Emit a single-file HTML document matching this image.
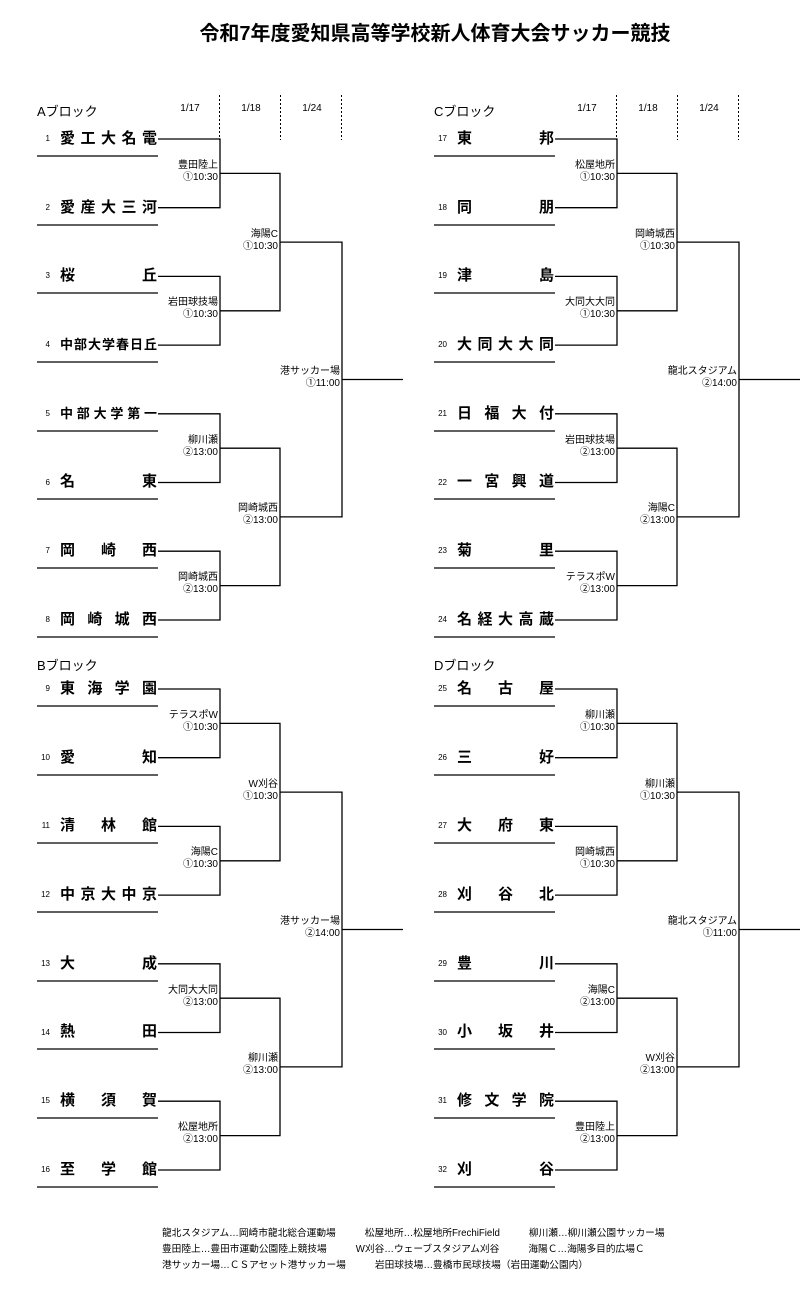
<!DOCTYPE html>
<html><head><meta charset="utf-8">
<style>
body{margin:0;width:809px;height:1314px;background:#fff;position:relative;font-family:"Liberation Sans","Noto Sans CJK JP",sans-serif;color:#000;overflow:hidden}
.a{position:absolute;white-space:nowrap}
.t{font-size:20px;font-weight:bold;left:0;width:870px;text-align:center;top:17px}
.bk{font-size:13px}
.dt{font-size:10px;width:40px;text-align:center}
.n{font-size:8px;width:16px;text-align:right}
.nm{font-size:15px;font-weight:bold;width:97px;text-align:justify;text-align-last:justify;text-justify:inter-character;line-height:20px}
.nm.s{font-size:13px}
.l{font-size:10px;text-align:right;line-height:12px;width:120px}
.f{font-size:9.7px;line-height:16px;left:162px;top:1226px}
</style></head><body>
<div class="a t">令和7年度愛知県高等学校新人体育大会サッカー競技</div>
<svg class="a" style="left:0;top:0" width="809" height="1314">
<g stroke="#000" stroke-width="1.3" fill="none" id="A">
<path d="M37 156H158M37 225H158M37 293H158M37 362H158M37 431H158M37 499H158M37 568H158M37 637H158"/>
<path d="M158 139H220V207.7H158M158 276.4H220V345.1H158M158 413.8H220V482.5H158M158 551.2H220V620H158"/>
<path d="M220 173.4H280V310.8H220M220 448.2H280V585.6H220"/>
<path d="M280 242.1H342V516.9H280M342 379.5H403"/>
</g>
<use href="#A" x="0" y="550"/>
<use href="#A" x="397" y="0"/>
<use href="#A" x="397" y="550"/>
<g stroke="#000" stroke-width="1" stroke-dasharray="2,2">
<path d="M219.5 95V140M280.5 95V140M341.5 95V140M616.5 95V140M677.5 95V140M738.5 95V140"/>
</g>
</svg>

<div class="a bk" style="left:37px;top:101px">Aブロック</div>
<div class="a bk" style="left:37px;top:655px">Bブロック</div>
<div class="a bk" style="left:434px;top:101px">Cブロック</div>
<div class="a bk" style="left:434px;top:655px">Dブロック</div>
<div class="a dt" style="left:170px;top:103px">1/17</div>
<div class="a dt" style="left:231px;top:103px">1/18</div>
<div class="a dt" style="left:292px;top:103px">1/24</div>
<div class="a dt" style="left:567px;top:103px">1/17</div>
<div class="a dt" style="left:628px;top:103px">1/18</div>
<div class="a dt" style="left:689px;top:103px">1/24</div>

<!-- A -->
<div class="a n" style="left:34px;top:134px">1</div><div class="a nm" style="left:60px;top:129px">愛工大名電</div>
<div class="a n" style="left:34px;top:203px">2</div><div class="a nm" style="left:60px;top:198px">愛産大三河</div>
<div class="a n" style="left:34px;top:271px">3</div><div class="a nm" style="left:60px;top:266px">桜　　　丘</div>
<div class="a n" style="left:34px;top:340px">4</div><div class="a nm s" style="left:60px;top:335px">中部大学春日丘</div>
<div class="a n" style="left:34px;top:409px">5</div><div class="a nm s" style="left:60px;top:404px">中部大学第一</div>
<div class="a n" style="left:34px;top:478px">6</div><div class="a nm" style="left:60px;top:472px">名　　　東</div>
<div class="a n" style="left:34px;top:546px">7</div><div class="a nm" style="left:60px;top:541px">岡　崎　西</div>
<div class="a n" style="left:34px;top:615px">8</div><div class="a nm" style="left:60px;top:610px">岡崎城西</div>
<!-- B -->
<div class="a n" style="left:34px;top:684px">9</div><div class="a nm" style="left:60px;top:679px">東海学園</div>
<div class="a n" style="left:34px;top:753px">10</div><div class="a nm" style="left:60px;top:748px">愛　　　知</div>
<div class="a n" style="left:34px;top:821px">11</div><div class="a nm" style="left:60px;top:816px">清　林　館</div>
<div class="a n" style="left:34px;top:890px">12</div><div class="a nm" style="left:60px;top:885px">中京大中京</div>
<div class="a n" style="left:34px;top:959px">13</div><div class="a nm" style="left:60px;top:954px">大　　　成</div>
<div class="a n" style="left:34px;top:1028px">14</div><div class="a nm" style="left:60px;top:1022px">熱　　　田</div>
<div class="a n" style="left:34px;top:1096px">15</div><div class="a nm" style="left:60px;top:1091px">横　須　賀</div>
<div class="a n" style="left:34px;top:1165px">16</div><div class="a nm" style="left:60px;top:1160px">至　学　館</div>
<!-- C -->
<div class="a n" style="left:431px;top:134px">17</div><div class="a nm" style="left:457px;top:129px">東　　　邦</div>
<div class="a n" style="left:431px;top:203px">18</div><div class="a nm" style="left:457px;top:198px">同　　　朋</div>
<div class="a n" style="left:431px;top:271px">19</div><div class="a nm" style="left:457px;top:266px">津　　　島</div>
<div class="a n" style="left:431px;top:340px">20</div><div class="a nm" style="left:457px;top:335px">大同大大同</div>
<div class="a n" style="left:431px;top:409px">21</div><div class="a nm" style="left:457px;top:404px">日福大付</div>
<div class="a n" style="left:431px;top:478px">22</div><div class="a nm" style="left:457px;top:472px">一宮興道</div>
<div class="a n" style="left:431px;top:546px">23</div><div class="a nm" style="left:457px;top:541px">菊　　　里</div>
<div class="a n" style="left:431px;top:615px">24</div><div class="a nm" style="left:457px;top:610px">名経大高蔵</div>
<!-- D -->
<div class="a n" style="left:431px;top:684px">25</div><div class="a nm" style="left:457px;top:679px">名　古　屋</div>
<div class="a n" style="left:431px;top:753px">26</div><div class="a nm" style="left:457px;top:748px">三　　　好</div>
<div class="a n" style="left:431px;top:821px">27</div><div class="a nm" style="left:457px;top:816px">大　府　東</div>
<div class="a n" style="left:431px;top:890px">28</div><div class="a nm" style="left:457px;top:885px">刈　谷　北</div>
<div class="a n" style="left:431px;top:959px">29</div><div class="a nm" style="left:457px;top:954px">豊　　　川</div>
<div class="a n" style="left:431px;top:1028px">30</div><div class="a nm" style="left:457px;top:1022px">小　坂　井</div>
<div class="a n" style="left:431px;top:1096px">31</div><div class="a nm" style="left:457px;top:1091px">修文学院</div>
<div class="a n" style="left:431px;top:1165px">32</div><div class="a nm" style="left:457px;top:1160px">刈　　　谷</div>

<!-- labels A -->
<div class="a l" style="left:98px;top:160px">豊田陸上<br>①10:30</div>
<div class="a l" style="left:98px;top:297px">岩田球技場<br>①10:30</div>
<div class="a l" style="left:98px;top:435px">柳川瀬<br>②13:00</div>
<div class="a l" style="left:98px;top:572px">岡崎城西<br>②13:00</div>
<div class="a l" style="left:158px;top:229px">海陽C<br>①10:30</div>
<div class="a l" style="left:158px;top:503px">岡崎城西<br>②13:00</div>
<div class="a l" style="left:220px;top:366px">港サッカー場<br>①11:00</div>
<!-- labels B -->
<div class="a l" style="left:98px;top:710px">テラスポW<br>①10:30</div>
<div class="a l" style="left:98px;top:847px">海陽C<br>①10:30</div>
<div class="a l" style="left:98px;top:985px">大同大大同<br>②13:00</div>
<div class="a l" style="left:98px;top:1122px">松屋地所<br>②13:00</div>
<div class="a l" style="left:158px;top:779px">W刈谷<br>①10:30</div>
<div class="a l" style="left:158px;top:1053px">柳川瀬<br>②13:00</div>
<div class="a l" style="left:220px;top:916px">港サッカー場<br>②14:00</div>
<!-- labels C -->
<div class="a l" style="left:495px;top:160px">松屋地所<br>①10:30</div>
<div class="a l" style="left:495px;top:297px">大同大大同<br>①10:30</div>
<div class="a l" style="left:495px;top:435px">岩田球技場<br>②13:00</div>
<div class="a l" style="left:495px;top:572px">テラスポW<br>②13:00</div>
<div class="a l" style="left:555px;top:229px">岡崎城西<br>①10:30</div>
<div class="a l" style="left:555px;top:503px">海陽C<br>②13:00</div>
<div class="a l" style="left:617px;top:366px">龍北スタジアム<br>②14:00</div>
<!-- labels D -->
<div class="a l" style="left:495px;top:710px">柳川瀬<br>①10:30</div>
<div class="a l" style="left:495px;top:847px">岡崎城西<br>①10:30</div>
<div class="a l" style="left:495px;top:985px">海陽C<br>②13:00</div>
<div class="a l" style="left:495px;top:1122px">豊田陸上<br>②13:00</div>
<div class="a l" style="left:555px;top:779px">柳川瀬<br>①10:30</div>
<div class="a l" style="left:555px;top:1053px">W刈谷<br>②13:00</div>
<div class="a l" style="left:617px;top:916px">龍北スタジアム<br>①11:00</div>

<div class="a f">龍北スタジアム…岡崎市龍北総合運動場　　　松屋地所…松屋地所FrechiField　　　柳川瀬…柳川瀬公園サッカー場<br>豊田陸上…豊田市運動公園陸上競技場　　　W刈谷…ウェーブスタジアム刈谷　　　海陽Ｃ…海陽多目的広場Ｃ<br>港サッカー場…ＣＳアセット港サッカー場　　　岩田球技場…豊橋市民球技場（岩田運動公園内）</div>
</body></html>
